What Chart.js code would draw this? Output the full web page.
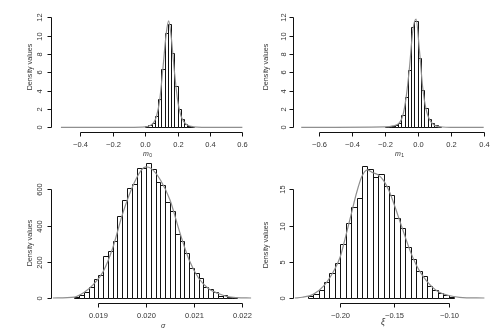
<!DOCTYPE html>
<html lang="en">
<head>
<meta charset="UTF-8">
<title>Posterior densities</title>
<style>
    body { margin: 0; background: #fff; }
    #wrap { position: relative; width: 504px; height: 336px; overflow: hidden; }
    #wrap canvas { position: absolute; }
</style>
<script src="https://cdn.jsdelivr.net/npm/chart.js"></script>
</head>
<body>
<div id="wrap">
    <canvas id="c1" width="252" height="160" style="left:0;top:0"></canvas>
    <canvas id="c2" width="252" height="160" style="left:252px;top:0"></canvas>
    <canvas id="c3" width="252" height="186" style="left:0;top:150px"></canvas>
    <canvas id="c4" width="252" height="186" style="left:252px;top:150px"></canvas>
</div>
<script>
// m0 histogram (bin centres, width 0.02)
const m0Bins = [0.01, 0.03, 0.05, 0.07, 0.09, 0.11, 0.13, 0.15, 0.17, 0.19, 0.21, 0.23, 0.25, 0.27, 0.29];
const m0Hist = [0.1, 0.2, 0.5, 1.2, 3.1, 6.4, 10.3, 11.3, 8.1, 4.5, 2.0, 0.9, 0.4, 0.15, 0.05];
const m0CurveX = [-0.52, -0.1, 0.0, 0.03, 0.05, 0.07, 0.09, 0.11, 0.13, 0.145, 0.16, 0.18, 0.20, 0.22, 0.24, 0.26, 0.30, 0.35, 0.6];
const m0CurveY = [0, 0, 0.05, 0.2, 0.45, 1.2, 3.0, 6.5, 10.2, 11.6, 10.0, 6.2, 3.0, 1.3, 0.6, 0.25, 0.05, 0, 0];
const m0XTicks = [-0.4, -0.2, 0.0, 0.2, 0.4, 0.6];
const m0XLabels = ['\u22120.4', '\u22120.2', '0.0', '0.2', '0.4', '0.6'];
const m0YTicks = [0, 2, 4, 6, 8, 10, 12];

// m1 histogram (bin centres, width 0.02)
const m1Bins = [-0.19, -0.17, -0.15, -0.13, -0.11, -0.09, -0.07, -0.05, -0.03, -0.01, 0.01, 0.03, 0.05, 0.07, 0.09, 0.11, 0.13];
const m1Hist = [0.05, 0.08, 0.15, 0.3, 0.5, 1.35, 3.3, 6.3, 10.9, 11.6, 7.6, 4.1, 2.1, 0.9, 0.45, 0.2, 0.05];
const m1CurveX = [-0.706, -0.2, -0.15, -0.11, -0.09, -0.07, -0.05, -0.03, -0.01, 0.01, 0.03, 0.05, 0.07, 0.09, 0.11, 0.15, 0.2, 0.4];
const m1CurveY = [0, 0.05, 0.15, 0.5, 1.3, 3.3, 6.5, 10.5, 11.8, 8.5, 4.4, 2.0, 0.9, 0.4, 0.15, 0.03, 0, 0];
const m1XTicks = [-0.6, -0.4, -0.2, 0.0, 0.2, 0.4];
const m1XLabels = ['\u22120.6', '\u22120.4', '\u22120.2', '0.0', '0.2', '0.4'];
const m1YTicks = [0, 2, 4, 6, 8, 10, 12];

// sigma histogram (bin centres, width 0.0001)
const sigBins = [0.01855, 0.01865, 0.01875, 0.01885, 0.01895, 0.01905, 0.01915, 0.01925, 0.01935, 0.01945,
    0.01955, 0.01965, 0.01975, 0.01985, 0.01995, 0.02005, 0.02015, 0.02025, 0.02035, 0.02045,
    0.02055, 0.02065, 0.02075, 0.02085, 0.02095, 0.02105, 0.02115, 0.02125, 0.02135, 0.02145,
    0.02155, 0.02165, 0.02175, 0.02185];
const sigHist = [8, 18, 33, 60, 105, 125, 230, 262, 313, 451,
    539, 606, 628, 716, 716, 744, 713, 639, 624, 528,
    481, 354, 315, 247, 168, 136, 109, 63, 48, 33,
    13, 15, 7, 4];
const sigCurveX = [0.01805, 0.0185, 0.0187, 0.0189, 0.0191, 0.0193, 0.0195, 0.0197, 0.0199, 0.0200, 0.0201,
    0.0203, 0.0205, 0.0207, 0.0209, 0.0211, 0.0213, 0.0215, 0.0217, 0.0219, 0.0222];
const sigCurveY = [0, 5, 30, 75, 145, 275, 458, 605, 706, 724, 716,
    652, 541, 366, 210, 109, 53, 26, 8, 2, 0];
const sigXTicks = [0.019, 0.020, 0.021, 0.022];
const sigXLabels = ['0.019', '0.020', '0.021', '0.022'];
const sigYTicks = [0, 200, 400, 600];

// xi histogram (bin centres, width 0.005)
const xiBins = [-0.2275, -0.2225, -0.2175, -0.2125, -0.2075, -0.2025, -0.1975, -0.1925, -0.1875, -0.1825,
    -0.1775, -0.1725, -0.1675, -0.1625, -0.1575, -0.1525, -0.1475, -0.1425, -0.1375, -0.1325,
    -0.1275, -0.1225, -0.1175, -0.1125, -0.1075, -0.1025, -0.0975];
const xiHist = [0.25, 0.6, 1.15, 2.16, 3.5, 4.8, 7.5, 10.4, 12.6, 13.85,
    18.2, 17.8, 16.7, 17.1, 15.5, 14.2, 11.0, 9.6, 7.0, 5.4,
    3.7, 3.0, 1.7, 1.1, 0.74, 0.4, 0.2];
const xiCurveX = [-0.242, -0.235, -0.225, -0.215, -0.205, -0.20, -0.195, -0.19, -0.185, -0.18, -0.175, -0.17,
    -0.165, -0.16, -0.155, -0.15, -0.145, -0.14, -0.135, -0.13, -0.125, -0.12, -0.115, -0.11, -0.10, -0.09, -0.067];
const xiCurveY = [0, 0.1, 0.5, 1.7, 4.0, 5.7, 8.5, 11.5, 14.5, 16.8, 17.7, 17.3,
    17.0, 16.2, 14.8, 12.8, 10.6, 8.4, 6.3, 4.6, 3.3, 2.3, 1.5, 0.9, 0.35, 0.1, 0];
const xiXTicks = [-0.20, -0.15, -0.10];
const xiXLabels = ['\u22120.20', '\u22120.15', '\u22120.10'];
const xiYTicks = [0, 5, 10, 15];

const FONT = '"Liberation Sans", Arial, sans-serif';

// crisp 1px outlines for the histogram bars (uses the bar elements' own geometry)
const crispBars = {
    id: 'crispBars',
    afterDatasetDraw(chart, args) {
        if (args.meta.type !== 'bar') return;
        const ctx = chart.ctx;
        ctx.save();
        ctx.strokeStyle = '#111';
        ctx.lineWidth = 1;
        ctx.beginPath();
        args.meta.data.forEach(el => {
            const l = Math.round(el.x - el.width / 2) + 0.5;
            const r = Math.round(el.x + el.width / 2) + 0.5;
            const t = Math.round(el.y) + 0.5;
            const b = Math.round(el.base) + 0.5;
            ctx.rect(l, t, r - l, b - t);
        });
        ctx.stroke();
        ctx.restore();
    }
};

// R-style detached axes, drawn with the chart's own scales
const rAxes = {
    id: 'rAxes',
    afterDraw(chart, args, o) {
        const ctx = chart.ctx, a = chart.chartArea;
        const xs = chart.scales.x, ys = chart.scales.y;
        ctx.save();
        ctx.strokeStyle = '#111';
        ctx.lineWidth = 1;
        ctx.fillStyle = '#333';

        // x axis
        const yb = Math.round(a.bottom) + 0.5;
        const xp = o.xTicks.map(v => Math.round(xs.getPixelForValue(v)) + 0.5);
        ctx.beginPath();
        ctx.moveTo(xp[0], yb);
        ctx.lineTo(xp[xp.length - 1], yb);
        xp.forEach(p => { ctx.moveTo(p, yb); ctx.lineTo(p, yb + 4); });
        ctx.stroke();
        ctx.font = '7.5px ' + FONT;
        ctx.textAlign = 'center';
        ctx.textBaseline = 'middle';
        xp.forEach((p, i) => ctx.fillText(o.xLabels[i], p, yb + 12.5));

        // y axis
        const xl = Math.round(a.left) - 0.5;
        const yp = o.yTicks.map(v => Math.round(ys.getPixelForValue(v)) + 0.5);
        ctx.beginPath();
        ctx.moveTo(xl, yp[0]);
        ctx.lineTo(xl, yp[yp.length - 1]);
        yp.forEach(p => { ctx.moveTo(xl, p); ctx.lineTo(xl - 4, p); });
        ctx.stroke();
        yp.forEach((p, i) => {
            ctx.save();
            ctx.translate(xl - o.yLabelGap, p);
            ctx.rotate(-Math.PI / 2);
            ctx.fillText(String(o.yTicks[i]), 0, 0);
            ctx.restore();
        });

        // y title
        ctx.save();
        ctx.translate(o.yTitleX, o.yTitleY);
        ctx.rotate(-Math.PI / 2);
        ctx.font = '7.2px ' + FONT;
        ctx.fillText('Density values', 0, 0);
        ctx.restore();

        // x title (italic symbol with optional subscript)
        ctx.font = 'italic ' + o.titleSize + 'px ' + FONT;
        const w = ctx.measureText(o.xTitle).width;
        ctx.textAlign = 'left';
        let tx = o.xTitleX - w / 2;
        if (o.xSub) tx -= 2;
        ctx.fillText(o.xTitle, tx, yb + o.xTitleDy);
        if (o.xSub) {
            ctx.font = '5px ' + FONT;
            ctx.fillText(o.xSub, tx + w + 0.3, yb + o.xTitleDy + 2);
        }
        ctx.restore();
    }
};

function makePanel(id, p) {
    const bars = p.bins.map((x, i) => ({ x: x, y: p.hist[i] }));
    const curve = p.curveX.map((x, i) => ({ x: x, y: p.curveY[i] }));
    new Chart(document.getElementById(id), {
        type: 'bar',
        data: {
            datasets: [{
                type: 'line',
                data: curve,
                borderColor: '#8f8f8f',
                borderWidth: 1.2,
                pointRadius: 0,
                tension: 0.4,
                cubicInterpolationMode: 'monotone',
                order: 0
            }, {
                type: 'bar',
                data: bars,
                backgroundColor: '#fff',
                borderWidth: 0,
                inflateAmount: 0,
                barPercentage: 1,
                categoryPercentage: 1,
                grouped: false,
                order: 1
            }]
        },
        options: {
            responsive: false,
            animation: false,
            events: [],
            layout: { padding: p.pad },
            plugins: {
                legend: { display: false },
                tooltip: { enabled: false },
                rAxes: p.axes
            },
            scales: {
                x: { type: 'linear', display: false, offset: false, min: p.xMin, max: p.xMax },
                y: { type: 'linear', display: false, min: p.yMin, max: p.yMax }
            }
        },
        plugins: [crispBars, rAxes]
    });
}

makePanel('c1', {
    bins: m0Bins, hist: m0Hist, curveX: m0CurveX, curveY: m0CurveY,
    xMin: -0.575, xMax: 0.6225, yMin: -0.48, yMax: 12.48,
    pad: { left: 52, right: 6, top: 12.9, bottom: 28.3 },
    axes: { xTicks: m0XTicks, xLabels: m0XLabels, yTicks: m0YTicks, yLabelGap: 12,
        yTitleX: 30, yTitleY: 67, xTitle: 'm', xSub: '0', xTitleX: 148, xTitleDy: 21.5, titleSize: 7 }
});

makePanel('c2', {
    bins: m1Bins, hist: m1Hist, curveX: m1CurveX, curveY: m1CurveY,
    xMin: -0.748, xMax: 0.44, yMin: -0.48, yMax: 12.48,
    pad: { left: 42.3, right: 13.7, top: 12.9, bottom: 28.3 },
    axes: { xTicks: m1XTicks, xLabels: m1XLabels, yTicks: m1YTicks, yLabelGap: 10,
        yTitleX: 14, yTitleY: 67, xTitle: 'm', xSub: '1', xTitleX: 148, xTitleDy: 21.5, titleSize: 7 }
});

makePanel('c3', {
    bins: sigBins, hist: sigHist, curveX: sigCurveX, curveY: sigCurveY,
    xMin: 0.018038, xMax: 0.0222, yMin: -27.6, yMax: 760,
    pad: { left: 52.3, right: 0.7, top: 10.4, bottom: 33 },
    axes: { xTicks: sigXTicks, xLabels: sigXLabels, yTicks: sigYTicks, yLabelGap: 12,
        yTitleX: 30, yTitleY: 93, xTitle: '\u03C3', xSub: '', xTitleX: 163, xTitleDy: 23, titleSize: 7 }
});

makePanel('c4', {
    bins: xiBins, hist: xiHist, curveX: xiCurveX, curveY: xiCurveY,
    xMin: -0.2424, xMax: -0.066, yMin: -0.69, yMax: 18.5,
    pad: { left: 42.3, right: 18.5, top: 14, bottom: 33 },
    axes: { xTicks: xiXTicks, xLabels: xiXLabels, yTicks: xiYTicks, yLabelGap: 11,
        yTitleX: 14, yTitleY: 95, xTitle: '\u03BE', xSub: '', xTitleX: 131, xTitleDy: 19, titleSize: 9 }
});
</script>
</body>
</html>
